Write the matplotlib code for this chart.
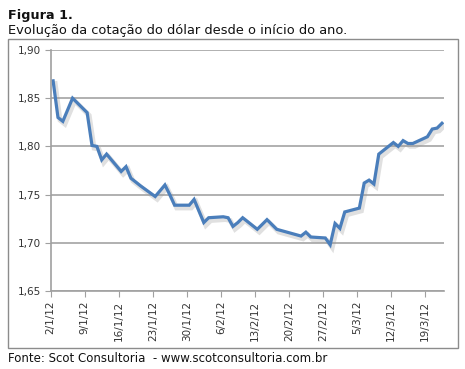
import datetime as dt
import matplotlib
matplotlib.use("Agg")
import matplotlib.pyplot as plt
import matplotlib.dates as mdates
import matplotlib.patheffects as pe
from matplotlib.patches import Rectangle
from matplotlib.ticker import FuncFormatter

# --- DATA ---
days = [
    "2/1", "3/1", "4/1", "5/1", "6/1", "9/1", "10/1", "11/1", "12/1", "13/1",
    "16/1", "17/1", "18/1", "19/1", "20/1", "23/1", "24/1", "25/1", "26/1", "27/1",
    "30/1", "31/1", "1/2", "2/2", "3/2", "6/2", "7/2", "8/2", "9/2", "10/2",
    "13/2", "14/2", "15/2", "16/2", "17/2", "22/2", "23/2", "24/2", "27/2", "28/2",
    "29/2", "1/3", "2/3", "5/3", "6/3", "7/3", "8/3", "9/3", "12/3", "13/3",
    "14/3", "15/3", "16/3", "19/3", "20/3", "21/3", "22/3",
]
dollar = [
    1.868, 1.830, 1.826, 1.838, 1.850, 1.835, 1.801, 1.800, 1.786, 1.792,
    1.774, 1.779, 1.767, 1.763, 1.759, 1.748, 1.754, 1.760, 1.750, 1.739,
    1.739, 1.745, 1.733, 1.721, 1.726, 1.727, 1.726, 1.717, 1.721, 1.726,
    1.714, 1.719, 1.724, 1.719, 1.714, 1.707, 1.711, 1.706, 1.705, 1.698,
    1.720, 1.715, 1.732, 1.736, 1.762, 1.765, 1.761, 1.792, 1.804, 1.800,
    1.806, 1.803, 1.803, 1.810, 1.818, 1.819, 1.824,
]
tick_days = ["2/1", "9/1", "16/1", "23/1", "30/1", "6/2", "13/2", "20/2",
             "27/2", "5/3", "12/3", "19/3"]


def to_date(s):
    d, m = s.split("/")
    return dt.datetime(2012, int(m), int(d))


# points sit in the middle of each day slot
xs = [to_date(s) + dt.timedelta(hours=12) for s in days]
ticks = [to_date(s) for s in tick_days]

# --- PLOT SETUP ---
fig = plt.figure(figsize=(4.65, 3.69), dpi=100)
ax = fig.add_axes([0.109, 0.2114, 0.8467, 0.6531])

# chart frame
fig.patches.append(Rectangle((0.0172, 0.0569), 0.9677, 0.8375, transform=fig.transFigure,
                             fill=False, edgecolor="#8c8c8c", linewidth=1.0))

fig.text(0.017, 0.975, "Figura 1.", fontsize=9.2, fontweight="bold", va="top", color="#111111")
fig.text(0.017, 0.935, "Evolução da cotação do dólar desde o início do ano.", fontsize=9.4,
         va="top", color="#111111")
fig.text(0.017, 0.012, "Fonte: Scot Consultoria  - www.scotconsultoria.com.br", fontsize=8.5,
         va="bottom", color="#111111")

ax.plot(xs, dollar, color="#4a7ebb", lw=2.3, solid_joinstyle="miter",
        path_effects=[pe.SimpleLineShadow(offset=(1.5, -2), shadow_color="#999999", alpha=0.3,
                                          linewidth=3.5),
                      pe.Normal()])

ax.set_ylim(1.65, 1.90)
ax.set_yticks([1.65, 1.70, 1.75, 1.80, 1.85, 1.90])
ax.yaxis.set_major_formatter(FuncFormatter(lambda v, p: f"{v:.2f}".replace(".", ",")))
ax.set_xlim(to_date("2/1"), to_date("2/1") + dt.timedelta(days=81))
ax.set_xticks(ticks)
ax.xaxis.set_major_formatter(FuncFormatter(
    lambda v, p: "{d.day}/{d.month}/12".format(d=mdates.num2date(v))))

ax.grid(axis="y", color="#b0b0b0", lw=1.4)
ax.set_axisbelow(True)
for side in ("top", "right"):
    ax.spines[side].set_visible(False)
for side in ("left", "bottom"):
    ax.spines[side].set_color("#a0a0a0")
    ax.spines[side].set_linewidth(1.2)

ax.tick_params(axis="y", length=4, color="#a0a0a0", labelsize=7.5, labelcolor="#333333", pad=3)
ax.tick_params(axis="x", length=4, color="#a0a0a0", labelsize=7.5, labelcolor="#333333", pad=3,
               labelrotation=90)

fig.savefig("out.png", dpi=100)
